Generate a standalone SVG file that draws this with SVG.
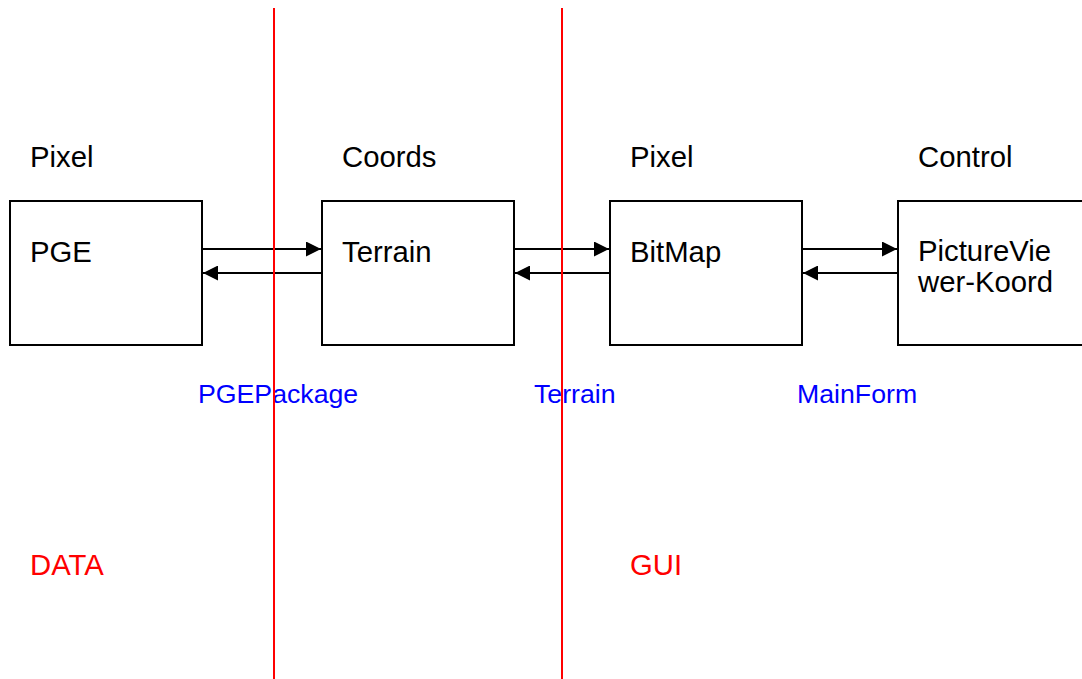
<svg xmlns="http://www.w3.org/2000/svg" width="1082" height="679" viewBox="0 0 1082 679">
  <style>
    text { font-family: "Liberation Sans", Arial, sans-serif; font-size: 29.3px; }
    .lbl { fill: #000; }
    .pkg { fill: #0000ff; font-size: 26.7px; }
    .layer { fill: #ff0000; }
    .box { fill: #fff; stroke: #000; stroke-width: 2; }
    .link { stroke: #000; stroke-width: 2; fill: none; }
    .sep { stroke: #ff0000; stroke-width: 2; }
  </style>
  <defs>
    <marker id="head" viewBox="0 0 15 15" refX="15" refY="7.5" markerWidth="15" markerHeight="15" markerUnits="userSpaceOnUse" orient="auto">
      <path d="M0,0 L15,7.5 L0,15 Z" fill="#000"/>
    </marker>
  </defs>
  <rect width="1082" height="679" fill="#fff"/>

  <!-- nodes -->
  <g id="node-pge">
    <text class="lbl" x="30" y="167">Pixel</text>
    <rect class="box" x="10" y="201" width="192" height="144"/>
    <text class="lbl" x="30" y="262">PGE</text>
  </g>
  <g id="node-terrain">
    <text class="lbl" x="342" y="167">Coords</text>
    <rect class="box" x="322" y="201" width="192" height="144"/>
    <text class="lbl" x="342" y="262">Terrain</text>
  </g>
  <g id="node-bitmap">
    <text class="lbl" x="630" y="167">Pixel</text>
    <rect class="box" x="610" y="201" width="192" height="144"/>
    <text class="lbl" x="630" y="262">BitMap</text>
  </g>
  <g id="node-viewer">
    <text class="lbl" x="918" y="167">Control</text>
    <rect class="box" x="898" y="201" width="192" height="144"/>
    <text class="lbl" x="918" y="261">PictureVie</text>
    <text class="lbl" x="918" y="292">wer-Koord</text>
  </g>

  <!-- connectors -->
  <g id="connectors">
    <line class="link" x1="202" y1="249" x2="321" y2="249" marker-end="url(#head)"/>
    <line class="link" x1="322" y1="273" x2="203" y2="273" marker-end="url(#head)"/>
    <line class="link" x1="514" y1="249" x2="609" y2="249" marker-end="url(#head)"/>
    <line class="link" x1="610" y1="273" x2="515" y2="273" marker-end="url(#head)"/>
    <line class="link" x1="802" y1="249" x2="897" y2="249" marker-end="url(#head)"/>
    <line class="link" x1="898" y1="273" x2="803" y2="273" marker-end="url(#head)"/>
  </g>

  <!-- package names -->
  <g id="packages">
    <text class="pkg" x="198" y="403">PGEPackage</text>
    <text class="pkg" x="534" y="403">Terrain</text>
    <text class="pkg" x="797" y="403">MainForm</text>
  </g>

  <!-- layer labels -->
  <g id="layers">
    <text class="layer" x="30" y="575">DATA</text>
    <text class="layer" x="630" y="575">GUI</text>
  </g>

  <!-- layer boundaries -->
  <g id="separators">
    <line class="sep" x1="274" y1="8" x2="274" y2="679"/>
    <line class="sep" x1="562" y1="8" x2="562" y2="679"/>
  </g>
</svg>
